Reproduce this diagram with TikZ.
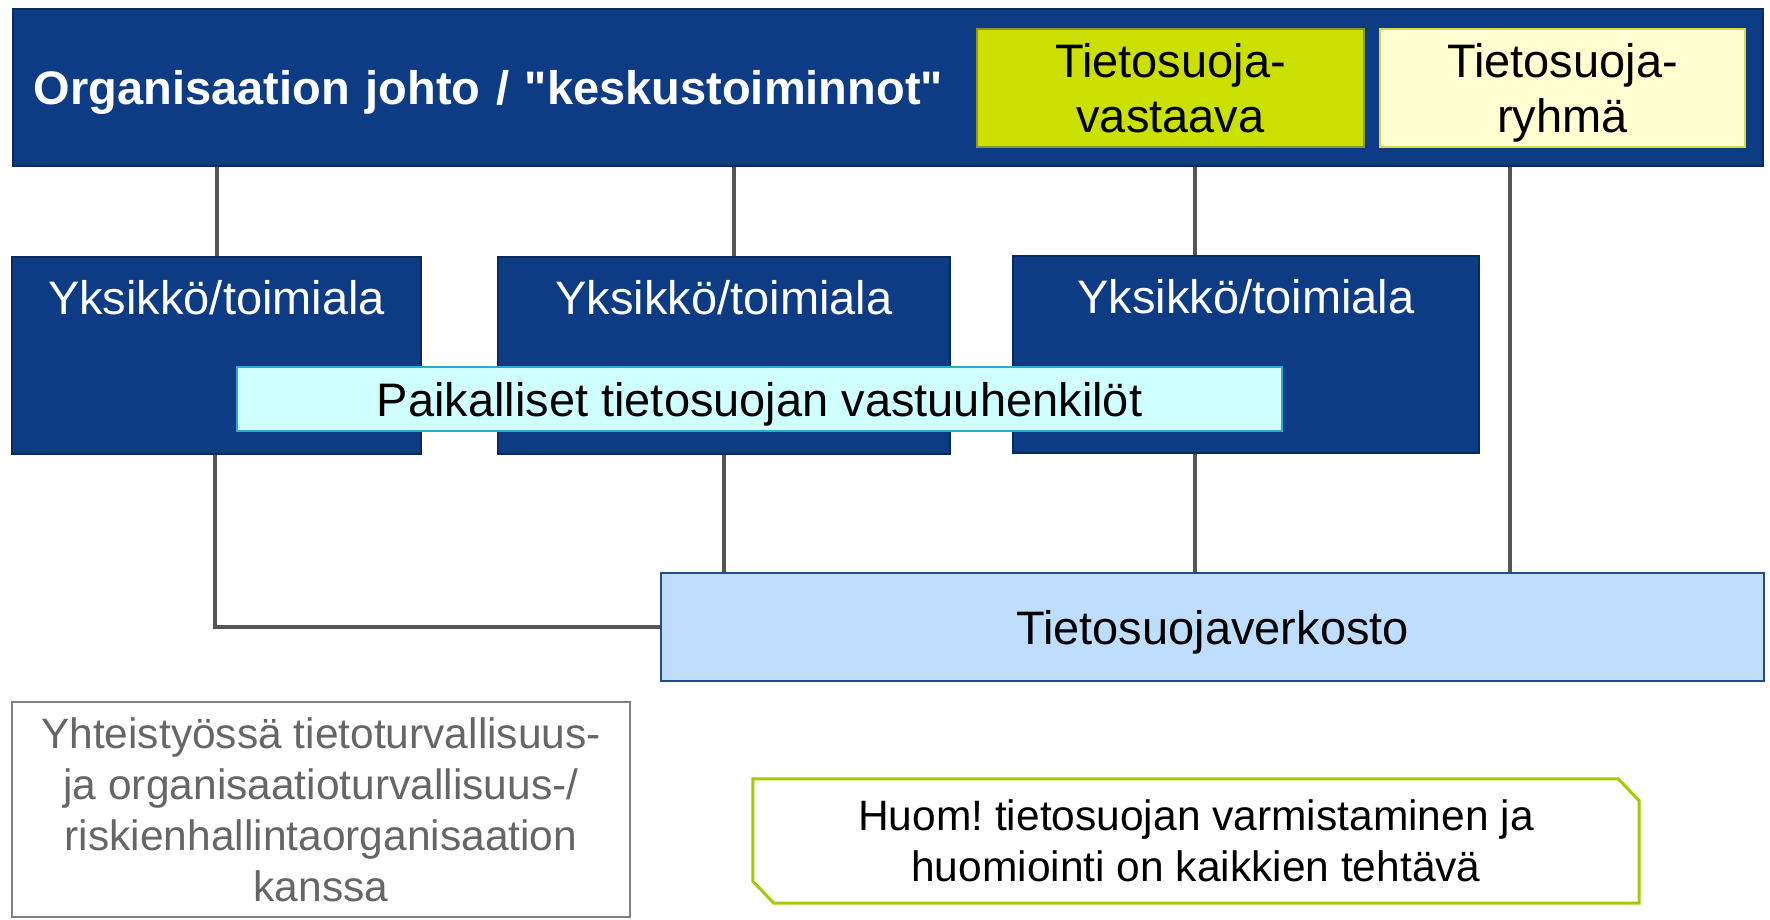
\documentclass[tikz,border=0pt]{standalone}
\usepackage{fontspec}
\setmainfont{Liberation Sans}[Ligatures=TeXOff]
\usetikzlibrary{backgrounds}

\definecolor{johtoblue}{RGB}{14,60,132}
\definecolor{johtoedge}{RGB}{10,42,98}
\definecolor{vastaavagreen}{RGB}{204,224,0}
\definecolor{vastaavaedge}{RGB}{140,150,40}
\definecolor{ryhmayellow}{RGB}{255,255,210}
\definecolor{ryhmaedge}{RGB}{215,215,80}
\definecolor{paikcyan}{RGB}{208,255,255}
\definecolor{paikedge}{RGB}{45,170,205}
\definecolor{verkostoblue}{RGB}{191,222,255}
\definecolor{verkostoedge}{RGB}{35,75,140}
\definecolor{huomedge}{RGB}{170,200,0}
\definecolor{linegray}{RGB}{85,85,85}

\tikzset{
  box/.style={rectangle, draw, line width=2pt, inner sep=0pt,
    font=\fontsize{47}{55}\selectfont},
  bluebox/.style={box, fill=johtoblue, draw=johtoedge, text=white},
  smalltext/.style={font=\fontsize{42.5}{51}\selectfont, align=center},
  conn/.style={draw=linegray, line width=4pt},
}

\begin{document}
\frenchspacing
\begin{tikzpicture}[x=1pt,y=-1pt]
        \useasboundingbox (0,0) rectangle (1770,919);
        % johto
        \node[bluebox, minimum height=157pt, text width=1708pt, inner xsep=21pt, align=left, text depth=0pt,
              font=\fontsize{47}{55}\selectfont\bfseries] (johto) at (888,87.5) {Organisaation johto / "keskustoiminnot"};
        \node[box, fill=vastaavagreen, draw=vastaavaedge, minimum width=387pt, minimum height=118pt, align=center, text depth=0pt] (vastaava) at (1170.5,88) {Tietosuoja-\\vastaava};
        \node[box, fill=ryhmayellow, draw=ryhmaedge, minimum width=365pt, minimum height=118pt, align=center, text depth=0pt] (ryhma) at (1562.5,88) {Tietosuoja-\\ryhmä};
        % yksiköt
        \node[bluebox, minimum width=409pt, text height=57pt, text depth=140pt] (yks1) at (216.5,355.5) {Yksikkö/toimiala};
        \node[bluebox, minimum width=452pt, text height=57pt, text depth=140pt] (yks2) at (724,355.5) {Yksikkö/toimiala};
        \node[bluebox, minimum width=466pt, text height=57pt, text depth=140pt] (yks3) at (1246,354.5) {Yksikkö/toimiala};
        \node[box, fill=paikcyan, draw=paikedge, minimum width=1045pt, minimum height=64pt, text depth=0pt] (paik) at (759.5,399) {Paikalliset tietosuojan vastuuhenkilöt};
        % verkosto
        \node[box, fill=verkostoblue, draw=verkostoedge, minimum width=1103pt, minimum height=108pt, text depth=0pt] (verkosto) at (1212.5,627) {Tietosuojaverkosto};
        \node[box, fill=white, draw=gray, text=black!60, smalltext, minimum width=618pt, minimum height=215pt] (yhteis) at (321,809.5)
              {Yhteistyössä tietoturvallisuus-\\ja organisaatioturvallisuus-/\\riskienhallintaorganisaation\\kanssa};
        \node[smalltext, minimum width=886pt, minimum height=124pt] (huom) at (1196,841) {Huom! tietosuojan varmistaminen ja\\huomiointi on kaikkien tehtävä};
        \draw[huomedge, line width=3pt] (huom.north west) -- ([xshift=-21pt]huom.north east) -- ([yshift=-22pt]huom.north east)
              -- (huom.south east) -- ([xshift=21pt]huom.south west) -- ([yshift=22pt]huom.south west) -- cycle;
        \scope[on background layer] % yhteydet
        \draw[conn] (yks1.north) -- (yks1.north |- johto.south);
        \draw[conn] ([xshift=10pt]yks2.north) -- ([xshift=10pt]yks2.north |- johto.south);
        \draw[conn] ([xshift=-51pt]yks3.north) -- ([xshift=-51pt]yks3.north |- johto.south);
        \draw[conn] ([xshift=-53pt]ryhma.south) -- ([xshift=-53pt]ryhma.south |- verkosto.north);
        \draw[conn] ([xshift=-2pt]yks1.south) |- (verkosto.west);
        \draw[conn] (yks2.south) -- (yks2.south |- verkosto.north);
        \draw[conn] ([xshift=-51pt]yks3.south) -- ([xshift=-51pt]yks3.south |- verkosto.north);
        \endscope
\end{tikzpicture}
\end{document}
